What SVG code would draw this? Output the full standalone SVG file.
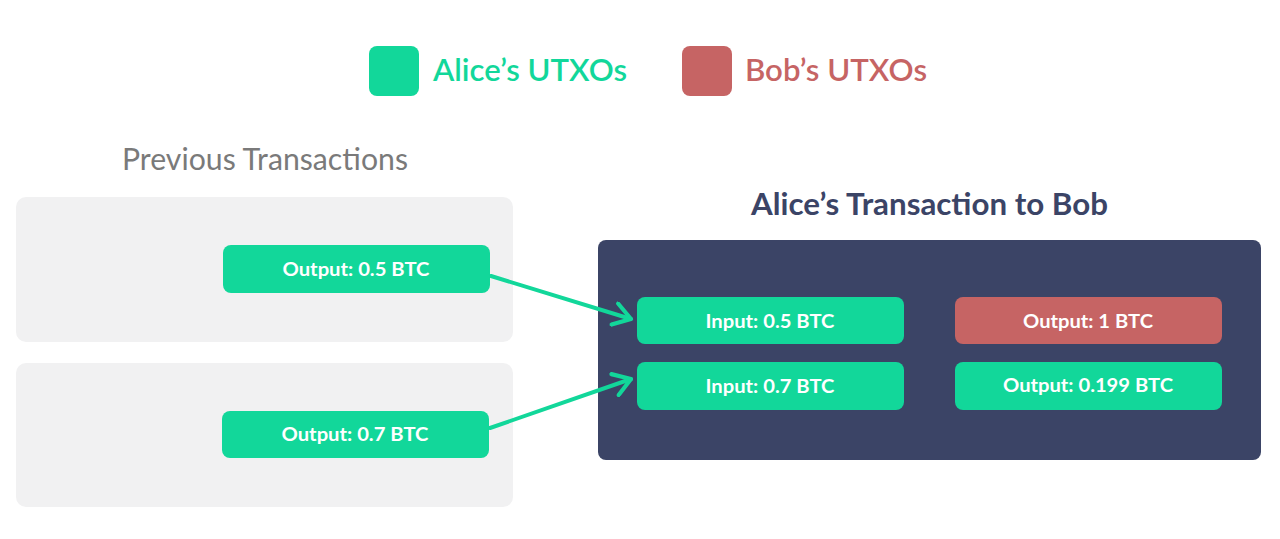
<svg xmlns="http://www.w3.org/2000/svg" width="1280" height="539" viewBox="0 0 1280 539">
<defs>
<marker id="chev" viewBox="0 0 20 20" refX="17" refY="10" markerWidth="26" markerHeight="26" markerUnits="userSpaceOnUse" orient="auto">
<path d="M4,1.5 L17,10 L4,18.5" fill="none" stroke="#12d79a" stroke-width="3.2" stroke-linecap="round" stroke-linejoin="round"/>
</marker>
</defs>
<style>
.g{fill:#12d79a}
.r{fill:#c66464}
.bt{font-family:Lato,"Liberation Sans",sans-serif;font-weight:bold;font-size:19px;fill:#ffffff;text-anchor:middle}
.pane{fill:#f1f1f2}
.leg{font-family:Lato,"Liberation Sans",sans-serif;font-size:31px;font-weight:600}
</style>
<rect width="1280" height="539" fill="#ffffff"/>
<g id="legend">
<rect x="369" y="46" width="50" height="50" rx="8" class="g"/>
<text x="433" y="81" class="leg" fill="#12d79a" textLength="194" lengthAdjust="spacingAndGlyphs">Alice’s UTXOs</text>
<rect x="682" y="46" width="50" height="50" rx="8" class="r"/>
<text x="745" y="81" class="leg" fill="#c66464" textLength="182" lengthAdjust="spacingAndGlyphs">Bob’s UTXOs</text>
</g>
<g id="prev-title">
<text x="122" y="170" font-family="Lato,'Liberation Sans',sans-serif" font-size="30" fill="#7a7a7a" textLength="286" lengthAdjust="spacingAndGlyphs">Previous Transactions</text>
</g>
<g id="prev-tx-1">
<rect x="16" y="197" width="497" height="145" rx="10" class="pane"/>
</g>
<g id="prev-tx-2">
<rect x="16" y="363" width="497" height="144" rx="10" class="pane"/>
</g>
<g id="out-05">
<rect x="223" y="245" width="267" height="48" rx="8" class="g"/>
<text x="356" y="276" class="bt" textLength="147" lengthAdjust="spacingAndGlyphs">Output: 0.5 BTC</text>
</g>
<g id="out-07">
<rect x="222" y="411" width="267" height="47" rx="8" class="g"/>
<text x="355" y="441" class="bt" textLength="147" lengthAdjust="spacingAndGlyphs">Output: 0.7 BTC</text>
</g>
<g id="tx-title">
<text x="751" y="215" font-family="Lato,'Liberation Sans',sans-serif" font-weight="bold" font-size="31" fill="#3b4466" textLength="357" lengthAdjust="spacingAndGlyphs">Alice’s Transaction to Bob</text>
</g>
<g id="tx">
<rect x="598" y="240" width="663" height="220" rx="8" fill="#3b4466"/>
</g>
<g id="in-05">
<rect x="637" y="297" width="267" height="47" rx="8" class="g"/>
<text x="770" y="328" class="bt" textLength="129" lengthAdjust="spacingAndGlyphs">Input: 0.5 BTC</text>
</g>
<g id="in-07">
<rect x="637" y="362" width="267" height="48" rx="8" class="g"/>
<text x="770" y="393" class="bt" textLength="129" lengthAdjust="spacingAndGlyphs">Input: 0.7 BTC</text>
</g>
<g id="out-1">
<rect x="955" y="297" width="267" height="47" rx="8" class="r"/>
<text x="1088" y="328" class="bt" textLength="130" lengthAdjust="spacingAndGlyphs">Output: 1 BTC</text>
</g>
<g id="out-0199">
<rect x="955" y="362" width="267" height="48" rx="8" class="g"/>
<text x="1088" y="392" class="bt" textLength="170" lengthAdjust="spacingAndGlyphs">Output: 0.199 BTC</text>
</g>
<g id="connectors" fill="none" stroke="#12d79a" stroke-width="4" stroke-linecap="round">
<line x1="491" y1="276" x2="631" y2="319" marker-end="url(#chev)"/>
<line x1="490" y1="428" x2="631" y2="379" marker-end="url(#chev)"/>
</g>
</svg>
